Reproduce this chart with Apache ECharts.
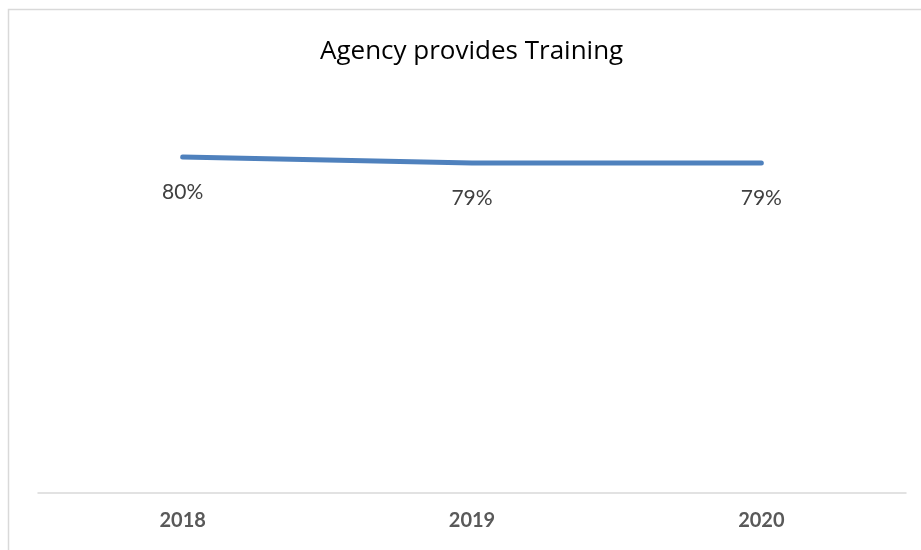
<!DOCTYPE html>
<html>
<head>
<meta charset="utf-8">
<script src="https://cdn.jsdelivr.net/npm/echarts@6/dist/echarts.min.js"></script>
<style>
  html, body { margin: 0; padding: 0; background: #fff; }
  #main { width: 921px; height: 550px; }
</style>
</head>
<body>
<div id="main"></div>
<script>
    // chart data
    var titleText = 'Agency provides Training';
    var years = ['2018', '2019', '2020'];
    var shareValues = [0.80, 0.786, 0.786];

    var myChart = echarts.init(document.getElementById('main'));

    var option = {
        backgroundColor: '#fff',
        animation: false,
        title: {
            text: titleText,
            left: 315,
            top: 34,
            textStyle: {
                fontFamily: 'Open Sans',
                fontSize: 26,
                fontWeight: 'normal',
                color: '#000'
            }
        },
        // outer frame, cut off on the right and bottom like the original
        graphic: [{
            type: 'rect',
            silent: true,
            shape: { x: 8.5, y: 9.5, width: 1000, height: 1000 },
            style: { fill: 'none', stroke: '#d9d9d9', lineWidth: 1.5 }
        }],
        grid: {
            left: 38,
            right: 15,
            top: 73,
            bottom: 57
        },
        xAxis: {
            type: 'category',
            data: years,
            boundaryGap: true,
            axisLine: { lineStyle: { color: '#d9d9d9', width: 1.5 } },
            axisTick: { show: false },
            axisLabel: {
                fontFamily: 'Lato',
                fontSize: 20,
                fontWeight: 'bold',
                color: '#595959',
                margin: 18
            }
        },
        yAxis: {
            type: 'value',
            min: 0,
            max: 1,
            show: false,
            splitLine: { show: false }
        },
        series: [{
            type: 'line',
            data: shareValues,
            symbol: 'circle',
            symbolSize: 1,
            itemStyle: { color: 'rgba(0,0,0,0)' },
            lineStyle: { color: '#4f81bd', width: 5, cap: 'round' },
            label: {
                show: true,
                position: 'bottom',
                distance: 24,
                fontFamily: 'Lato',
                fontSize: 21,
                color: '#404040',
                formatter: function (p) {
                    return Math.round(p.value * 100) + '%';
                }
            }
        }]
    };

    myChart.setOption(option);
</script>
</body>
</html>
